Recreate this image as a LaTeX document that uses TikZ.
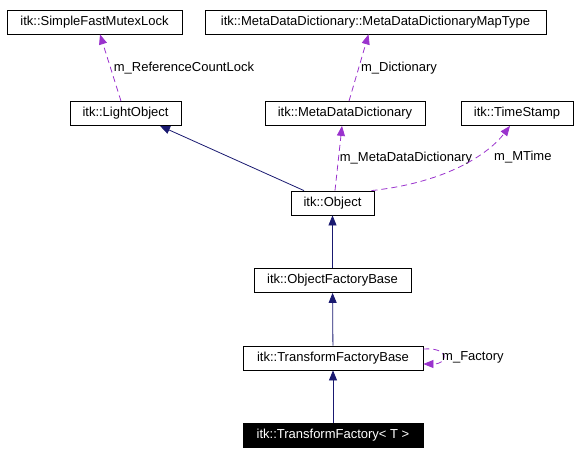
\documentclass[tikz,border=0pt]{standalone}
\usepackage{fontspec}
\setmainfont{Liberation Sans}
\usepackage{xcolor}
\usetikzlibrary{arrows.meta}
\definecolor{inhcol}{HTML}{191970}
\definecolor{usecol}{HTML}{9A32CD}

\begin{document}
\begin{tikzpicture}[
    x=1pt, y=-1pt,
    font=\fontsize{13}{15}\selectfont,
    cls/.style={draw, inner sep=0pt, minimum height=24pt, line width=0.8pt},
    clsthis/.style={cls, fill=black, text=white},
    lbl/.style={inner sep=1pt},
    inherit/.style={-{Triangle[length=10pt,width=8pt]}, draw=inhcol, line width=0.8pt},
    member/.style={-{Triangle[length=10pt,width=8pt]}, draw=usecol, line width=0.8pt, dash pattern=on 6pt off 4pt}
]
\useasboundingbox (0,0) rectangle (584,455);
\node[cls, minimum width=175pt] (sfml) at (94.5,22) {itk::SimpleFastMutexLock};
\node[cls, minimum width=341pt] (maptype) at (375.5,22) {itk::MetaDataDictionary::MetaDataDictionaryMapType};
\node[cls, minimum width=111pt] (light) at (125.5,113.5) {itk::LightObject};
\node[cls, minimum width=160pt] (mdd) at (345,113.5) {itk::MetaDataDictionary};
\node[cls, minimum width=112pt] (tstamp) at (517,113.5) {itk::TimeStamp};
\node[cls, minimum width=83pt] (obj) at (332.5,203) {itk::Object};
\node[cls, minimum width=157pt] (ofb) at (332.5,280.5) {itk::ObjectFactoryBase};
\node[cls, minimum width=180pt] (tfb) at (333,358) {itk::TransformFactoryBase};
\node[clsthis, minimum width=180pt] (tf) at (333,435.5) {itk::TransformFactory< T >};
% inheritance
\draw[inherit] (tf) -- (tfb);
\draw[inherit] (tfb) -- (ofb);
\draw[inherit] (ofb) -- (obj);
\draw[inherit] ([xshift=-28.5pt]obj.north) -- ([xshift=34.5pt]light.south);
% members
\draw[member] ([xshift=-4.5pt]light.north) -- ([xshift=5.5pt]sfml.south)
    node[lbl, midway, anchor=west, xshift=2pt] (lblrefcount) {m\_ReferenceCountLock};
\draw[member] ([xshift=4pt]mdd.north) -- ([xshift=-7pt]maptype.south)
    node[lbl, midway, anchor=west, xshift=1pt] (lbldict) {m\_Dictionary};
\draw[member] ([xshift=2.5pt]obj.north) -- ([xshift=-3pt]mdd.south)
    node[lbl, midway, anchor=west] (lblmdd) {m\_MetaDataDictionary};
\draw[member] ([xshift=39pt]obj.north) .. controls (450,182) and (490,152) .. ([xshift=-7pt]tstamp.south);
\node[lbl, anchor=west] (lblmtime) at (493,157) {m\_MTime};
\draw[member] ([yshift=9pt]tfb.east) .. controls +(26,-2) and +(26,0) .. ([yshift=-6pt]tfb.east);
\node[lbl, anchor=west] (lblfactory) at (441,357) {m\_Factory};
\end{tikzpicture}
\end{document}
